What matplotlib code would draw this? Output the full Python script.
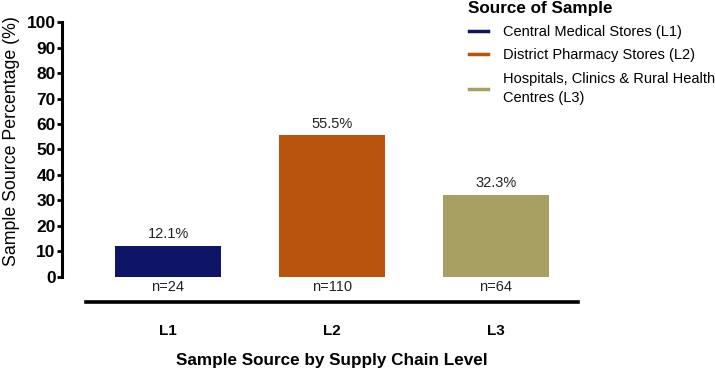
import matplotlib.pyplot as plt
from matplotlib.lines import Line2D

levels = ["L1", "L2", "L3"]
percent = [12.1, 55.5, 32.3]
counts = [24, 110, 64]
sources = ["Central Medical Stores (L1)", "District Pharmacy Stores (L2)",
           "Hospitals, Clinics & Rural Health\nCentres (L3)"]
colors = ["#0f1566", "#b8540d", "#a89f62"]

plt.rcParams['font.family'] = ['Liberation Sans', 'DejaVu Sans']

fig = plt.figure(figsize=(7.15, 3.73), dpi=100)
ax = fig.add_axes([0.1203, 0.2574, 0.688, 0.6836])

x = list(range(len(levels)))
ax.bar(x, percent, width=0.645, color=colors)

for i, p, n in zip(x, percent, counts):
    ax.annotate(f"{p}%", (i, p), xytext=(0, 3.5), textcoords="offset points",
                ha="center", va="bottom", fontsize=10.5, color="#222222")
    ax.annotate(f"n={n}", (i, 0), xytext=(0, -2), textcoords="offset points",
                ha="center", va="top", fontsize=10.5, color="#222222")

ax.set_xlim(-0.5, 2.5)
ax.set_ylim(0, 100)
ax.set_yticks(range(0, 101, 10))
ax.set_xticks(x)
ax.set_xticklabels(levels)

for s in ["top", "right"]:
    ax.spines[s].set_visible(False)
ax.spines["left"].set_position(("outward", 17.3))
ax.spines["left"].set_linewidth(2.2)
ax.spines["bottom"].set_position(("outward", 18))
ax.spines["bottom"].set_linewidth(2.6)
ax.tick_params(axis="y", length=3.6, width=2, pad=1, labelsize=12.5)
ax.tick_params(axis="x", length=0, pad=16, labelsize=11)
for t in ax.get_yticklabels() + ax.get_xticklabels():
    t.set_fontweight("bold")

ax.set_ylabel("Sample Source Percentage (%)", fontsize=12.8)
ax.yaxis.set_label_coords(-0.135, 0.535)
ax.set_xlabel("Sample Source by Supply Chain Level", fontsize=12.3,
              fontweight="bold", labelpad=10.5)

# legend title drawn on its own so the entries can sit a bit lower
fig.text(0.654, 0.978, "Source of Sample", fontsize=12.3, fontweight="bold",
         ha="left", va="center")
handles = [Line2D([0], [0], color=c, lw=2.5) for c in colors]
leg = fig.legend(handles, sources, loc="upper left", bbox_to_anchor=(0.637, 0.969),
                 frameon=False, fontsize=10.5,
                 handlelength=1.3, handletextpad=1.05, labelspacing=0.65)
for t in leg.get_texts():
    t.set_linespacing(1.45)

fig.savefig("out.png", dpi=100)
